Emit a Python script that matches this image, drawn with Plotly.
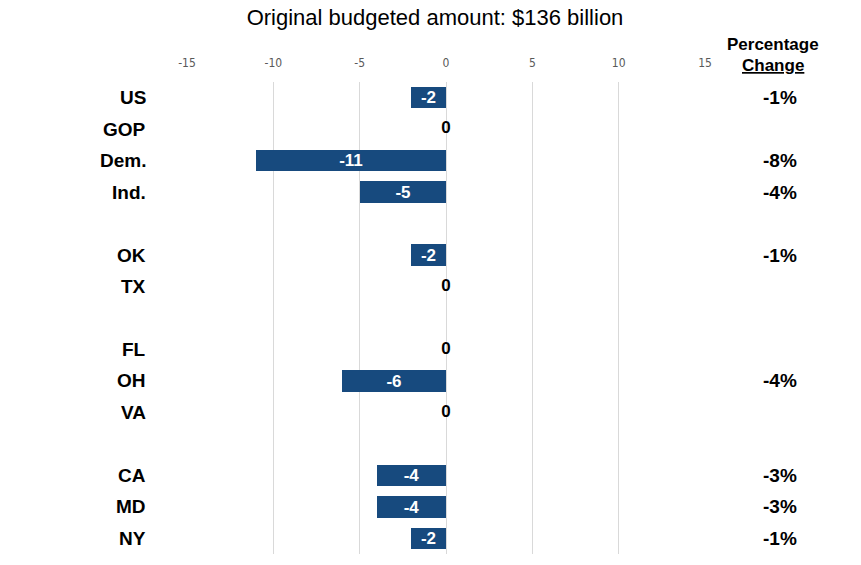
import plotly.graph_objects as go

# Change in budgeted amount (billions of dollars) by group, with spacer rows between blocks
categories = ["US", "GOP", "Dem.", "Ind.", "", "OK", "TX", "", "FL", "OH", "VA", "", "CA", "MD", "NY"]
values = [-2, 0, -11, -5, None, -2, 0, None, 0, -6, 0, None, -4, -4, -2]
pct_change = ["-1%", "", "-8%", "-4%", "", "-1%", "", "", "", "-4%", "", "", "-3%", "-3%", "-1%"]
x_ticks = [-15, -10, -5, 0, 5, 10, 15]

BAR_COLOR = "#174a7e"
FONT = "Liberation Sans, Arial, sans-serif"

rows = list(range(len(categories)))
bar_rows = [r for r, v in zip(rows, values) if v is not None]
bar_vals = [v for v in values if v is not None]
bar_text = [f"<b>{v}</b>" if v != 0 else "" for v in bar_vals]

zero_rows = [r for r, v in zip(rows, values) if v == 0]
zero_vals = [v for v in values if v == 0]

fig = go.Figure()
fig.add_trace(go.Bar(
    x=bar_vals, y=bar_rows, orientation="h",
    marker=dict(color=BAR_COLOR, line=dict(width=0)),
    width=0.68,
    text=bar_text, textposition="inside", insidetextanchor="middle",
    textangle=0, constraintext="none", cliponaxis=False,
    textfont=dict(color="white", size=17, family=FONT),
    hoverinfo="skip",
))
fig.add_trace(go.Scatter(
    x=zero_vals, y=zero_rows, mode="text",
    text=[f"<b>{v}</b>" for v in zero_vals],
    textposition="middle center",
    textfont=dict(color="black", size=17, family=FONT),
    hoverinfo="skip", cliponaxis=False,
))

top_px, bot_px = 82, 554
plot_w = 861 - 187 - 156


def px_to_paper_x(px):
    return (px - 187) / plot_w


def px_to_paper_y(px):
    return (bot_px - px) / (bot_px - top_px)


annotations = []
# group labels on the left
for r, c in zip(rows, categories):
    if c:
        annotations.append(dict(
            x=px_to_paper_x(148), y=r, xref="paper", yref="y", text=f"<b>{c}</b>",
            xanchor="right", yanchor="middle", showarrow=False,
            font=dict(size=19, color="black", family=FONT),
        ))
# percentage change column
for r, p in zip(rows, pct_change):
    if p:
        annotations.append(dict(
            x=px_to_paper_x(780), y=r, xref="paper", yref="y", text=f"<b>{p}</b>",
            xanchor="center", yanchor="middle", showarrow=False,
            font=dict(size=19, color="black", family=FONT),
        ))
annotations += [
    dict(x=px_to_paper_x(773), y=px_to_paper_y(44), xref="paper", yref="paper",
         text="<b>Percentage</b>", showarrow=False, xanchor="center", yanchor="middle",
         font=dict(size=17, color="black", family=FONT)),
    dict(x=px_to_paper_x(773), y=px_to_paper_y(65), xref="paper", yref="paper",
         text="<b><u>Change</u></b>", showarrow=False, xanchor="center", yanchor="middle",
         font=dict(size=17, color="black", family=FONT)),
]

fig.update_layout(
    width=861, height=565,
    margin=dict(l=187, r=156, t=top_px, b=565 - bot_px),
    paper_bgcolor="white", plot_bgcolor="white",
    showlegend=False,
    title=dict(text="Original budgeted amount: $136 billion", x=435 / 861, xanchor="center",
               xref="container", y=1 - 17 / 565, yanchor="middle",
               font=dict(size=22, color="black", family=FONT)),
    xaxis=dict(
        range=[-15, 15], side="top", tickvals=x_ticks,
        ticktext=[str(t) for t in x_ticks],
        showgrid=True, gridcolor="#d9d9d9", gridwidth=1,
        zeroline=False, showline=False, ticks="",
        tickfont=dict(size=12, color="#595959",
                      family="Liberation Sans Narrow, DejaVu Sans Condensed, Arial Narrow, sans-serif"),
        ticklabelstandoff=12,
        fixedrange=True,
    ),
    yaxis=dict(
        range=[len(categories) - 0.5, -0.5], showticklabels=False,
        showgrid=False, zeroline=False, showline=False, ticks="",
        fixedrange=True,
    ),
    annotations=annotations,
    bargap=0,
)

fig.write_html("out.html")
